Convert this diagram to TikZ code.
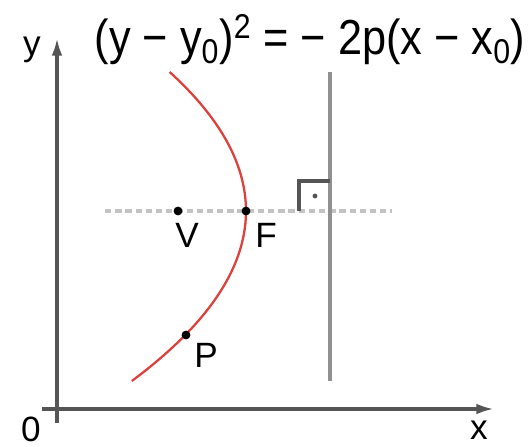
\documentclass[tikz,border=0pt]{standalone}
\usepackage{fontspec}
\setmainfont{Liberation Sans}
\usetikzlibrary{arrows.meta,positioning}
\definecolor{AxisGray}{RGB}{85,85,85}
\definecolor{LineGray}{RGB}{145,145,145}
\definecolor{DashGray}{RGB}{195,195,195}
\definecolor{CurveRed}{RGB}{220,65,60}

\begin{document}
\begin{tikzpicture}[x=0.02cm,y=-0.02cm,
  axis/.style={draw=AxisGray,line width=1.8pt,-{Latex[length=10pt,width=6pt]}},
  dirline/.style={draw=LineGray,line width=2.2pt},
  axisline/.style={draw=DashGray,line width=1.8pt,dash pattern=on 3.6pt off 2.2pt},
  curve/.style={draw=CurveRed,line width=1.3pt},
  dot/.style={circle,fill=black,inner sep=0pt,minimum size=5pt},
  lbl/.style={font=\fontsize{20}{22}\selectfont,inner sep=0pt},
]
\useasboundingbox (0,0) rectangle (529,447);
% axes
\coordinate (xl) at (42,409);
\coordinate (xr) at (494,409);
\coordinate (yb) at (57,423);
\coordinate (yt) at (57,38);
\draw[axis] (xl) -- (xr);
\draw[axis] (yb) -- (yt);
\node[lbl] (ylbl) at (32,50) {y};
\node[lbl] (olbl) at (31,429) {0};
\node[lbl] (xlbl) at (479,430) {x};
% axis of symmetry and directrix
\coordinate (al) at (105,211);
\coordinate (ar) at (392,211);
\draw[axisline] (al) -- (ar);
\coordinate (dtop) at (330,72);
\coordinate (dbot) at (330,381);
\draw[dirline] (dtop) -- (dbot);
% right angle mark
\coordinate (rc) at (299,181);
\draw[draw=AxisGray,line width=1.8pt] (rc |- al) -- (rc) -- (rc -| dtop);
\node[circle,fill=AxisGray,inner sep=0pt,minimum size=2.8pt] (rdot) at (315,196) {};
% parabola
\draw[curve] plot[domain=-139:170,samples=60] ({246-0.395*(\x/10)^2},{211+\x});
\node[dot] (V) at (178,211) {};
\node[dot] (F) at (246,211) {};
\node[dot] (P) at (186,335) {};
\node[lbl] (Vlbl) at (187,235) {V};
\node[lbl] (Flbl) at (266,235) {F};
\node[lbl] (Plbl) at (206,355) {P};
% equation
\node[font=\fontsize{28}{30}\selectfont,inner sep=0pt] (eq) at (310,40)
  {\scalebox{0.88}[1]{(y − y\textsubscript{0})\textsuperscript{2} = − 2p(x − x\textsubscript{0})}};
\end{tikzpicture}
\end{document}
